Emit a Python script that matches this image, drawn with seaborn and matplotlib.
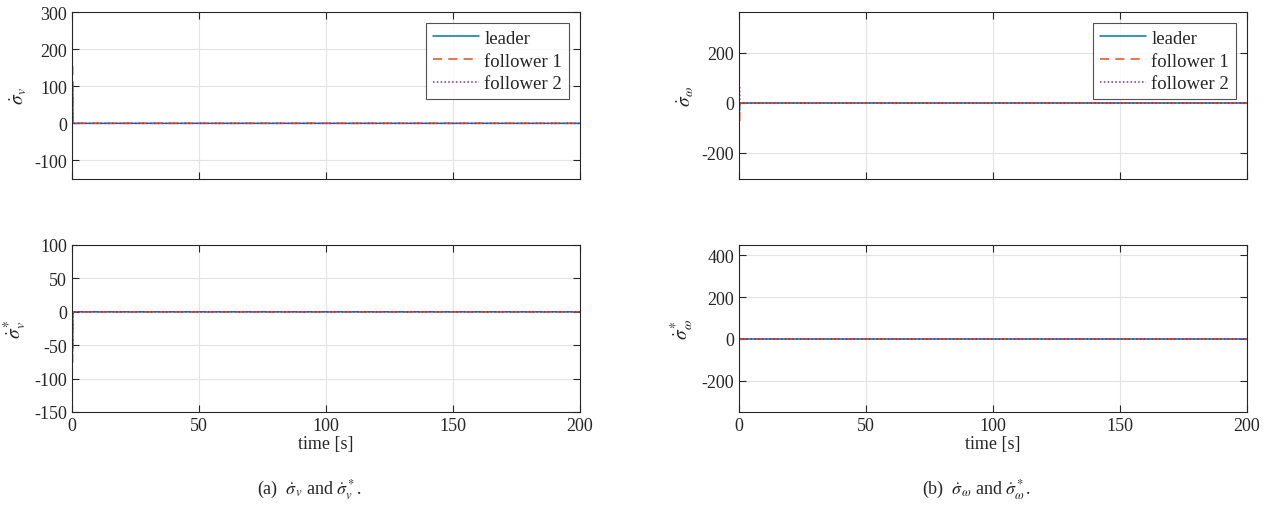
import matplotlib
matplotlib.use("Agg")
import matplotlib.pyplot as plt
import seaborn as sns
import numpy as np

sns.set_theme(style="white")
plt.rcParams['font.family'] = ['Liberation Serif', 'DejaVu Serif']
plt.rcParams['mathtext.fontset'] = 'stix'
plt.rcParams['axes.unicode_minus'] = False

# time samples (s)
t = [0.25, 0.3, 1.0, 200]

# sigma_v dot
sv_leader = [110, 0, 0, 0]
sv_f1 = [155, 0, 0, 0]
sv_f2 = [90, 0, 0, 0]
# sigma_v dot star
svs_leader = [-60, 0, 0, 0]
svs_f1 = [-76, 0, 0, 0]
svs_f2 = [-55, 0, 0, 0]
# sigma_omega dot
sw_leader = [-30, 0, 0, 0]
sw_f1 = [-72, 0, 0, 0]
sw_f2 = [64, 0, 0, 0]
# sigma_omega dot star
sws_leader = [5, 0, 0, 0]
sws_f1 = [-6, 0, 0, 0]
sws_f2 = [4, 0, 0, 0]

labels = ["leader", "follower 1", "follower 2"]
colors = ["#0072BD", "#D95319", "#7E2F8E"]
styles = ["-", (0, (6, 4)), (0, (1, 1.5))]

fig = plt.figure(figsize=(12.72, 5.06), dpi=100)
L1, W = 72/1272, 508/1272
L2 = 739/1272
H = 167/506
B_top = 1 - 180/506
B_bot = 1 - 413/506

panels = [
    (L1, B_top, [sv_leader, sv_f1, sv_f2], (-150, 300), [-100, 0, 100, 200, 300], r"$\dot{\sigma}_v$", True, False),
    (L1, B_bot, [svs_leader, svs_f1, svs_f2], (-150, 100), [-150, -100, -50, 0, 50, 100], r"$\dot{\sigma}_v^*$", False, True),
    (L2, B_top, [sw_leader, sw_f1, sw_f2], (-304, 364), [-200, 0, 200], r"$\dot{\sigma}_\omega$", True, False),
    (L2, B_bot, [sws_leader, sws_f1, sws_f2], (-348, 448), [-200, 0, 200, 400], r"$\dot{\sigma}_\omega^*$", False, True),
]

for (l, b, series, ylim, yt, ylab, leg, xlab) in panels:
    ax = fig.add_axes([l, b, W, H])
    for y, lab, c, ls in zip(series, labels, colors, styles):
        sns.lineplot(x=t, y=y, ax=ax, color=c, linestyle=ls, linewidth=1.1, label=lab, sort=False)
    ax.set_xlim(0, 200)
    ax.set_ylim(*ylim)
    ax.set_yticks(yt)
    ax.set_xticks([0, 50, 100, 150, 200])
    if not xlab:
        ax.set_xticklabels([])
    else:
        ax.set_xlabel("time [s]", fontsize=13, labelpad=1)
    ax.set_ylabel(ylab, fontsize=14, labelpad=4)
    ax.grid(True, color="#e3e3e3", linewidth=0.8)
    ax.tick_params(direction="in", length=5, width=0.8, labelsize=13, colors="#262626",
                   top=True, right=True, bottom=True, left=True)
    for s in ax.spines.values():
        s.set_color("#262626")
        s.set_linewidth(0.8)
    if leg:
        lg = ax.legend(loc="upper right", fontsize=13.5, frameon=True, fancybox=False,
                       edgecolor="#262626", borderpad=0.35, handlelength=2.45,
                       labelspacing=0.3, handletextpad=0.3, borderaxespad=0.6)
        lg.get_frame().set_linewidth(0.8)
    else:
        if ax.get_legend() is not None:
            ax.get_legend().remove()

fig.text((L1 + W/2) - 0.013, 1 - 490/506, r"(a)  $\dot{\sigma}_v$ and $\dot{\sigma}_v^*$.",
         ha="center", va="center", fontsize=13)
fig.text((L2 + W/2) - 0.013, 1 - 490/506, r"(b)  $\dot{\sigma}_\omega$ and $\dot{\sigma}_\omega^*$.",
         ha="center", va="center", fontsize=13)

fig.savefig("out.png", dpi=100)
